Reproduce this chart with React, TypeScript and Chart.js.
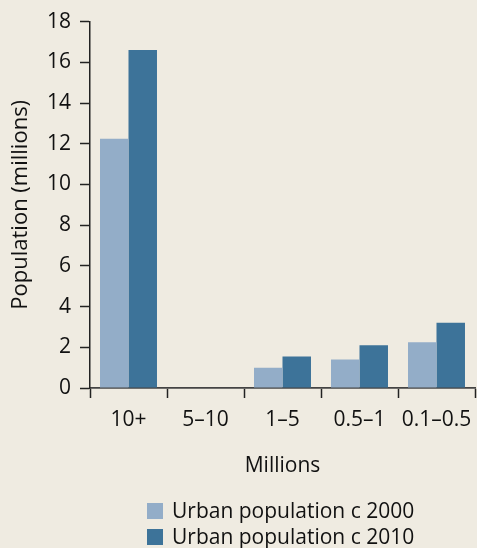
import React, { useEffect, useRef } from "react";
import { Chart, registerables } from "chart.js";

Chart.register(...registerables);

const categories = ["10+", "5–10", "1–5", "0.5–1", "0.1–0.5"];
const pop2000 = [12.25, 0, 1.0, 1.4, 2.25];
const pop2010 = [16.6, 0, 1.55, 2.1, 3.2];
const seriesLabels = ["Urban population c 2000", "Urban population c 2010"];
const yTickMin = 0;
const yTickMax = 18;
const yTickStep = 2;

const BG = "#efebe1";
const TEXT = "#111111";
const FONT = "'Open Sans', 'Liberation Sans', Arial, sans-serif";

const legendPlugin = {
  id: "customLegend",
  afterDraw(chart: any) {
    const ctx = chart.ctx;
    ctx.save();
    ctx.font = `21px ${FONT}`;
    ctx.textBaseline = "middle";
    ctx.textAlign = "left";
    chart.data.datasets.forEach((ds: any, i: number) => {
      const cy = 511 + i * 26;
      ctx.fillStyle = ds.backgroundColor;
      ctx.fillRect(147, cy - 8, 16, 16);
      ctx.fillStyle = TEXT;
      ctx.fillText(ds.label, 172, cy + 1);
    });
    ctx.restore();
  },
};

export default function App() {
  const ref = useRef<HTMLCanvasElement | null>(null);

  useEffect(() => {
    document.body.style.margin = "0";
    document.body.style.background = BG;
    if (!ref.current) return;
    const chart = new Chart(ref.current, {
      type: "bar",
      data: {
        labels: categories,
        datasets: [
          {
            label: seriesLabels[0],
            data: pop2000,
            backgroundColor: "#93adc8",
            borderWidth: 0,
            categoryPercentage: 0.74,
            barPercentage: 1,
          },
          {
            label: seriesLabels[1],
            data: pop2010,
            backgroundColor: "#3d7399",
            borderWidth: 0,
            categoryPercentage: 0.74,
            barPercentage: 1,
          },
        ],
      },
      options: {
        animation: false,
        responsive: false,
        maintainAspectRatio: false,
        layout: { padding: { top: 19, right: 2, left: 0, bottom: 0 } },
        plugins: {
          legend: { display: false },
          tooltip: { enabled: false },
        },
        scales: {
          x: {
            offset: true,
            grid: {
              offset: true,
              drawOnChartArea: false,
              drawTicks: true,
              tickLength: 10,
              tickWidth: 1.5,
              tickColor: "#222",
            },
            border: { display: true, color: "#444", width: 1.8 },
            ticks: {
              color: TEXT,
              font: { family: FONT, size: 21 },
              padding: 9,
              maxRotation: 0,
              autoSkip: false,
            },
            title: {
              display: true,
              text: "Millions",
              color: TEXT,
              font: { family: FONT, size: 21 },
              padding: { top: 0, bottom: 69 },
            },
            afterFit(scale: any) {
              scale.height = 160;
              scale.paddingRight = 0;
              scale.paddingLeft = 0;
            },
          },
          y: {
            min: yTickMin,
            max: yTickMax,
            grid: {
              drawOnChartArea: false,
              drawTicks: true,
              tickLength: 10,
              tickWidth: 1.5,
              tickColor: "#222",
            },
            border: { display: true, color: "#222", width: 1.5 },
            ticks: {
              stepSize: yTickStep,
              color: TEXT,
              font: { family: FONT, size: 21 },
              padding: 9,
            },
            title: {
              display: true,
              text: "Population (millions)",
              color: TEXT,
              font: { family: FONT, size: 22 },
              padding: { top: 8, bottom: 0 },
            },
            afterFit(scale: any) {
              scale.width = 90;
            },
          },
        },
      },
      plugins: [legendPlugin],
    });
    return () => chart.destroy();
  }, []);

  return (
    <div style={{ width: 477, height: 548, background: BG }}>
      <canvas ref={ref} width={477} height={548} style={{ display: "block", width: 477, height: 548 }} />
    </div>
  );
}
